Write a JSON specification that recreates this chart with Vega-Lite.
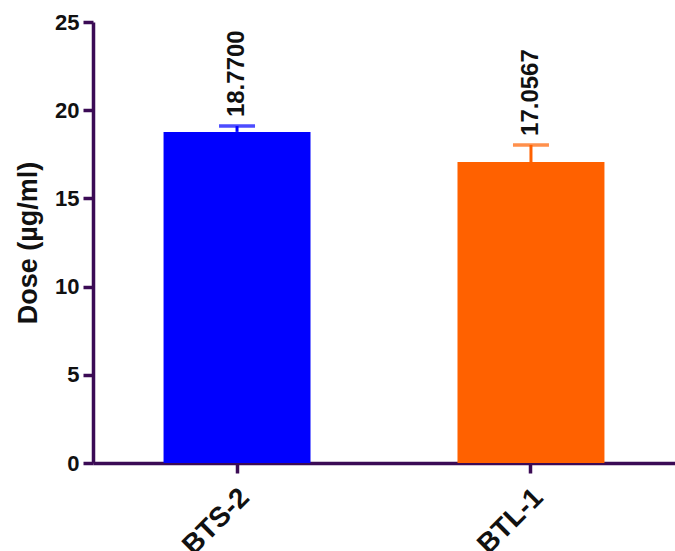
{
  "$schema": "https://vega.github.io/schema/vega-lite/v6.json",
  "autosize": "none",
  "width": 582,
  "height": 441,
  "padding": {"left": 93, "top": 22, "right": 0, "bottom": 88},
  "background": "white",
  "config": {
    "view": {"stroke": null},
    "font": "Liberation Sans",
    "axis": {"grid": false, "domainColor": "#3b0b55", "tickColor": "#3b0b55", "labelColor": "#111111", "titleColor": "#111111", "labelFont": "Liberation Sans", "titleFont": "Liberation Sans"}
  },
  "data": {
    "values": [
      {"group": "BTS-2", "mean": 18.77, "upper": 19.1, "label": "18.7700"},
      {"group": "BTL-1", "mean": 17.0567, "upper": 18.03, "label": "17.0567"}
    ]
  },
  "encoding": {
    "x": {
      "field": "group",
      "type": "nominal",
      "sort": ["BTS-2", "BTL-1"],
      "scale": {"paddingInner": 0.5, "paddingOuter": 0.24},
      "axis": {"title": null, "labelAngle": -45, "labelAlign": "right", "labelBaseline": "middle", "labelFontSize": 28, "labelFontWeight": "bold", "labelPadding": 20, "labelOffset": 8, "labelLimit": 300, "tickSize": 10, "tickWidth": 3.5, "domainWidth": 3.5}
    },
    "color": {
      "field": "group",
      "type": "nominal",
      "scale": {"domain": ["BTS-2", "BTL-1"], "range": ["#0000ff", "#ff6100"]},
      "legend": null
    }
  },
  "layer": [
    {
      "mark": {"type": "bar"},
      "encoding": {
        "y": {
          "field": "mean",
          "type": "quantitative",
          "scale": {"domain": [0, 25], "nice": false},
          "axis": {"title": "Dose (µg/ml)", "values": [0, 5, 10, 15, 20, 25], "labelFontSize": 22, "labelFontWeight": "bold", "labelPadding": 4, "tickSize": 10, "tickWidth": 3.5, "domainWidth": 3.5, "titleFontSize": 27, "titleFontWeight": "bold", "titlePadding": 12}
        }
      }
    },
    {
      "mark": {"type": "rule", "strokeWidth": 3},
      "encoding": {
        "y": {"field": "mean", "type": "quantitative"},
        "y2": {"field": "upper"}
      }
    },
    {
      "mark": {"type": "tick", "thickness": 3.5, "size": 36, "orient": "horizontal"},
      "encoding": {
        "y": {"field": "upper", "type": "quantitative"}
      }
    },
    {
      "mark": {"type": "text", "angle": -90, "align": "left", "baseline": "middle", "dx": 9, "fontSize": 24, "fontWeight": "bold", "color": "#111111", "font": "Liberation Sans"},
      "encoding": {
        "y": {"field": "upper", "type": "quantitative"},
        "text": {"field": "label"},
        "color": {"value": "#111111"}
      }
    }
  ]
}
